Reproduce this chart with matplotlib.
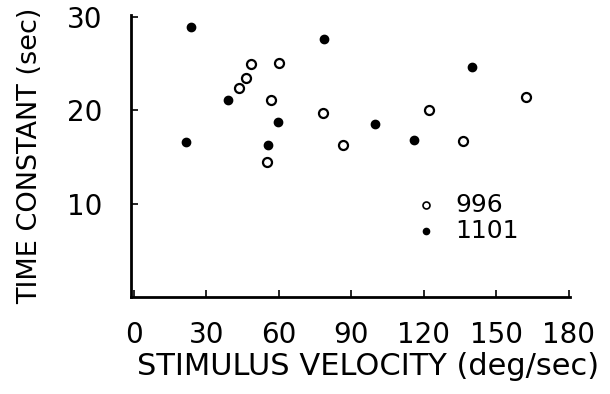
import matplotlib
matplotlib.use("Agg")
import matplotlib.pyplot as plt

# cell 996 (open circles)
vel_996 = [48.6, 60.0, 46.3, 43.6, 56.9, 78.1, 86.4, 55.0, 162.5, 122.4, 136.3]
tc_996 = [24.9, 25.1, 23.4, 22.4, 21.1, 19.7, 16.3, 14.5, 21.4, 20.0, 16.7]

# cell 1101 (filled circles)
vel_1101 = [23.7, 78.6, 38.8, 59.5, 21.4, 55.4, 139.9, 99.9, 115.8]
tc_1101 = [28.9, 27.6, 21.1, 18.7, 16.6, 16.3, 24.6, 18.5, 16.8]

xticks = [0, 30, 60, 90, 120, 150, 180]
yticks = [10, 20, 30]

fig = plt.figure(figsize=(6.1, 3.94), dpi=100)
ax = fig.add_axes([0.215, 0.246, 0.719, 0.716])

ax.plot(vel_996, tc_996, "o", ms=6.5, mfc="white", mec="black", mew=1.6)
ax.plot(vel_1101, tc_1101, "o", ms=6, mfc="black", mec="black")

# legend drawn by hand like the original
ax.plot([120.8], [9.9], "o", ms=5, mfc="white", mec="black", mew=1.2)
ax.plot([120.8], [7.1], "o", ms=4.5, mfc="black", mec="black")
ax.text(133, 9.9, "996", fontsize=18, va="center", ha="left")
ax.text(133, 7.1, "1101", fontsize=18, va="center", ha="left")

ax.set_xlim(-1.2, 180.5)
ax.set_ylim(0, 30.2)
ax.spines["top"].set_visible(False)
ax.spines["right"].set_visible(False)
ax.spines["left"].set_linewidth(2)
ax.spines["bottom"].set_linewidth(2)

ax.set_xticks(xticks)
ax.set_yticks(yticks)
ax.tick_params(axis="both", direction="in", length=5, width=1.2, labelsize=20)
ax.tick_params(axis="x", pad=17)
ax.tick_params(axis="y", pad=21)
ax.set_xlabel("STIMULUS VELOCITY (deg/sec)", fontsize=22)
ax.xaxis.set_label_coords(0.54, -0.195)
ax.set_ylabel("TIME CONSTANT (sec)", fontsize=19.5, labelpad=17)

fig.savefig("out.png", dpi=100)
